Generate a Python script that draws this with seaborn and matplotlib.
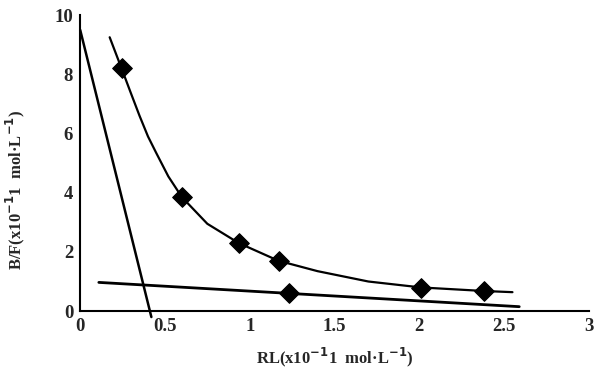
import numpy as np
import pandas as pd
import seaborn as sns
import matplotlib.pyplot as plt

# points
pt_x = [0.244, 0.60, 0.935, 1.17, 1.23, 2.01, 2.38]
pt_y = [8.2, 3.85, 2.3, 1.7, 0.6, 0.78, 0.68]

# upper (curved) fit, sampled along the drawn line
curve_x = [0.174, 0.244, 0.30, 0.35, 0.40, 0.448, 0.52, 0.60, 0.75, 0.935, 1.17, 1.40, 1.70, 2.01, 2.38, 2.55]
curve_y = [9.25, 8.2, 7.35, 6.6, 5.9, 5.35, 4.55, 3.85, 2.95, 2.3, 1.7, 1.35, 1.0, 0.8, 0.68, 0.64]

# two straight lines (end points)
steep_x = [0.0, 0.42]
steep_y = [9.5, -0.2]
flat_x = [0.11, 2.59]
flat_y = [0.97, 0.15]

x_ticks = [0, 0.5, 1, 1.5, 2, 2.5, 3]
x_tick_labels = ['0', '0.5', '1', '1.5', '2', '2.5', '3']
y_ticks = [0, 2, 4, 6, 8, 10]

sns.set_style('white')
plt.rcParams['font.family'] = ['Liberation Serif', 'DejaVu Serif']
plt.rcParams['font.weight'] = 'bold'

pts = pd.DataFrame({'x': pt_x, 'y': pt_y})
curve = pd.DataFrame({'x': curve_x, 'y': curve_y})

fig = plt.figure(figsize=(6.12, 3.86), dpi=100)
ax = fig.add_axes([0.131, 0.194, 0.831, 0.767])

sns.lineplot(data=curve, x='x', y='y', ax=ax, color='black', lw=1.6, sort=False)
ax.plot(steep_x, steep_y, color='black', lw=1.8, clip_on=False)
ax.plot(flat_x, flat_y, color='black', lw=2.0)
sns.scatterplot(data=pts, x='x', y='y', ax=ax, marker='D', s=100,
                color='black', edgecolor='black', zorder=5)

ax.set_xlim(0, 3)
ax.set_ylim(0, 10)
ax.set_xticks(x_ticks)
ax.set_xticklabels(x_tick_labels)
ax.set_yticks(y_ticks)
ax.tick_params(direction='in', length=3, width=1, labelsize=13.5, pad=5,
               color='black')
for s in ['top', 'right']:
    ax.spines[s].set_visible(False)
for s in ['left', 'bottom']:
    ax.spines[s].set_color('black')
    ax.spines[s].set_linewidth(1.5)

ax.set_xlabel('RL(x10$^{-1}$1  mol·L$^{-1}$)', fontsize=12, fontweight='bold', labelpad=8)
ax.set_ylabel('B/F(x10$^{-1}$1  mol·L$^{-1}$)', fontsize=12, fontweight='bold', labelpad=10)
ax.yaxis.set_label_coords(-0.105, 0.41)

fig.savefig('out.png', dpi=100)
